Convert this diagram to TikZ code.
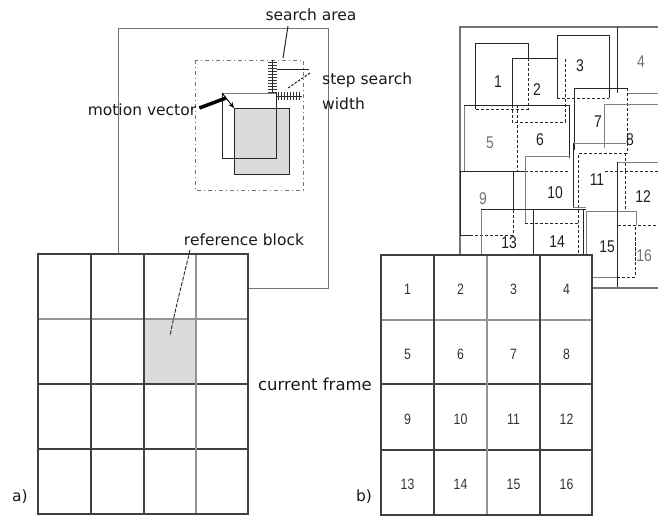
\documentclass[tikz,border=0pt]{standalone}
\usepackage{fontspec}
\setmainfont{DejaVu Sans}
\newfontfamily\numfont[FakeStretch=0.82]{Liberation Sans}
\usetikzlibrary{arrows.meta}
\begin{document}
\begin{tikzpicture}[x=1pt,y=-1pt,
  frm/.style={draw=black!55, line width=0.8pt},
  gdark/.style={draw=black!75, line width=1.7pt},
  glight/.style={draw=black!42, line width=1.3pt},
  sl/.style={draw=black!85, line width=0.9pt},
  dl/.style={draw=black!85, line width=0.9pt, dash pattern=on 3pt off 2pt},
  gl/.style={draw=black!50, line width=0.9pt},
  lbl/.style={font=\fontsize{15.5}{25}\selectfont, text=black!90, inner sep=0pt},
  bnum/.style={font=\numfont\fontsize{17}{17}\selectfont, text=black!88, inner sep=0pt},
  bnumg/.style={bnum, text=black!55},
  gnum/.style={font=\numfont\fontsize{15}{15}\selectfont, text=black!80, inner sep=0pt},
  shade/.style={fill=black!14}]
\useasboundingbox (0,0) rectangle (658,516);

% ---------------- a) ----------------
\draw[frm] (118,28) rectangle (328,288);
\draw[black!55, line width=0.9pt, dash pattern=on 4pt off 3pt on 1pt off 3pt] (195,60) rectangle (303,190);
\draw[sl, shade] (234,108) rectangle (289,174);
\draw[gl] (222,93) -- (276,93);
\draw[sl] (222,93) -- (222,158) -- (276,158) -- (276,93);
% rulers
\draw[sl] (272,60) -- (272,93);
\foreach \yy in {62,65,...,92} \draw[black!80, line width=0.6pt] (268,\yy) -- (277,\yy);
\draw[sl] (276,96) -- (302,96);
\foreach \xx in {278,281,...,301} \draw[black!80, line width=0.6pt] (\xx,92) -- (\xx,100);
\draw[sl] (277,69) -- (309,69);

\node[lbl] (search) at (311,15) {search area};
\coordinate (searchS) at (288,26);
\coordinate (searchT) at (283,58);
\draw[black!85, line width=1pt] (searchS) -- (searchT);

\node[lbl, anchor=west, align=left] (step) at (322,91) {step search\\width};
\coordinate (stepS) at (310,73);
\coordinate (stepT) at (288,88);
\draw[black!85, line width=1.1pt, dash pattern=on 2.5pt off 1.5pt] (stepS) -- (stepT);

\node[lbl] (mv) at (142,110) {motion vector};
\coordinate (mvA) at (222,93);
\coordinate (mvB) at (234,108);
\coordinate (mvP) at (226,98);
\draw[black, line width=3.5pt] (mv.east) ++(3,-2) -- (mvP);
\draw[black, line width=0.9pt, -{Stealth[length=6pt,width=5pt]}] (mvA) -- (mvB);

% current frame grid a
\fill[white] (38,254) rectangle (248,514);
\fill[black!14] (144,319) rectangle (196,384);
\draw[glight] (38,319) -- (248,319);
\draw[gdark] (38,384) -- (248,384);
\draw[gdark] (38,449) -- (248,449);
\draw[gdark] (91,254) -- (91,514);
\draw[gdark] (144,254) -- (144,514);
\draw[glight] (196,254) -- (196,514);
\draw[gdark] (38,254) rectangle (248,514);

\node[lbl] (refb) at (244,240) {reference block};
\coordinate (refS) at (190,250);
\coordinate (refT) at (170,336);
\draw[black!85, line width=0.9pt, dash pattern=on 4pt off 1.5pt] (refS) .. controls (183,280) and (176,305) .. (refT);

\node[lbl, font=\fontsize{16.5}{20}\selectfont] (cf) at (315,384) {current frame};
\node[lbl] (la) at (20,497) {a)};
\node[lbl] (lb) at (364,497) {b)};

% ---------------- b) ----------------
\draw[frm, line width=1.2pt] (658,27) -- (460,27) -- (460,288) -- (658,288);
% block 1
\draw[sl] (475,109) -- (475,43) -- (528,43) -- (528,58);
\draw[dl] (528,58) -- (528,109) -- (475,109);
% block 2
\draw[sl] (512,105) -- (512,58) -- (557,58);
\draw[dl] (512,105) -- (512,122) -- (565,122) -- (565,58);
% block 3
\draw[sl] (557,98) -- (557,35) -- (609,35) -- (609,98);
\draw[dl] (557,98) -- (609,98);
% block 4
\draw[sl] (617,27) -- (617,93);
\draw[gl] (627,93) -- (658,93);
% block 5
\draw[gl] (464,171) -- (464,105);
\draw[sl] (464,105) -- (569,105);
\draw[dl] (517,105) -- (517,171);
% block 6
\draw[sl] (569,105) -- (569,158);
\draw[dl] (525,171) -- (569,171);
% block 7
\draw[sl] (574,150) -- (574,88) -- (627,88);
\draw[dl] (627,88) -- (627,153) -- (577,153);
% block 8
\draw[gl] (604,148) -- (604,104) -- (658,104);
\draw[gl] (618,162) -- (658,162);
% block 9
\draw[sl] (460,235) -- (460,171) -- (525,171);
\draw[sl] (513,171) -- (513,210);
\draw[dl] (513,210) -- (513,235) -- (470,235);
\draw[sl] (470,235) -- (460,235);
% block 10
\draw[gl] (525,223) -- (525,156) -- (570,156);
\draw[dl] (525,223) -- (578,223);
\draw[dl] (578,155) -- (578,255);
% block 11
\draw[gl] (573,143) -- (626,143);
\draw[sl] (573,143) -- (573,207);
\draw[gl] (573,207) -- (586,207);
\draw[dl] (625,153) -- (625,171);
% block 12
\draw[dl] (605,171) -- (658,171);
\draw[dl] (625,171) -- (625,212);
% block 13
\draw[gl] (481,255) -- (481,209);
\draw[sl] (481,209) -- (586,209);
% block 14
\draw[sl] (533,209) -- (533,255);
\draw[sl] (583,209) -- (583,255);
% block 15
\draw[gl] (586,255) -- (586,211) -- (636,211) -- (636,225);
\draw[gl] (592,277) -- (617,277);
% block 16
\draw[sl] (617,162) -- (617,287);
\draw[dl] (618,225) -- (658,225);
\draw[dl] (617,277) -- (635,277) -- (635,225);

\node[bnum] (b1) at (498,82) {1};
\node[bnum] (b2) at (537,90) {2};
\node[bnum] (b3) at (580,66) {3};
\node[bnumg] (b4) at (641,62) {4};
\node[bnumg] (b5) at (490,143) {5};
\node[bnum] (b6) at (540,140) {6};
\node[bnum] (b7) at (598,122) {7};
\node[bnum] (b8) at (630,140) {8};
\node[bnumg] (b9) at (483,199) {9};
\node[bnum] (b10) at (555,193) {10};
\node[bnum] (b11) at (597,180) {11};
\node[bnum] (b12) at (643,197) {12};
\node[bnum] (b13) at (509,243) {13};
\node[bnum] (b14) at (557,242) {14};
\node[bnum] (b15) at (607,247) {15};
\node[bnumg] (b16) at (644,256) {16};
\draw[dl] (635,238) -- (635,262);

% current frame grid b
\fill[white] (381,255) rectangle (592,515);
\draw[glight] (381,320) -- (592,320);
\draw[gdark] (381,384) -- (592,384);
\draw[gdark] (381,450) -- (592,450);
\draw[gdark] (434,255) -- (434,515);
\draw[glight] (487,255) -- (487,515);
\draw[gdark] (540,255) -- (540,515);
\draw[gdark] (381,255) rectangle (592,515);
\foreach \n [count=\i from 0] in {1,...,16} {
  \pgfmathtruncatemacro{\col}{mod(\i,4)}
  \pgfmathtruncatemacro{\row}{div(\i,4)}
  \node[gnum] (g\n) at ({407.5+53*\col},{289+65*\row}) {\n};
}
\end{tikzpicture}
\end{document}
